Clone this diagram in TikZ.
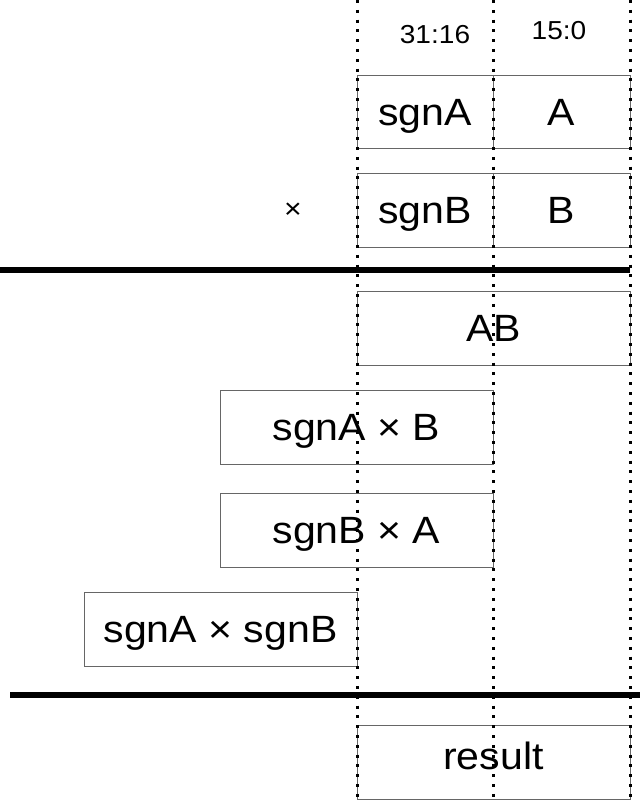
\documentclass[tikz,border=0pt]{standalone}
\usepackage{fontspec}
\setmainfont{Liberation Sans}
\newfontfamily\wfont[FakeStretch=1.08]{Liberation Sans}
\begin{document}
\begin{tikzpicture}[x=1pt,y=-1pt,
  regbox/.style={draw=black!60,line width=1pt,rectangle,inner sep=0pt,
    font=\wfont\fontsize{38}{40}\selectfont,text height=27pt,text depth=0pt},
  bitlabel/.style={font=\wfont\fontsize{26}{28}\selectfont,inner sep=0pt,
    text height=18.6pt,text depth=0pt},
  sepline/.style={line width=5.5pt},
  guide/.style={line width=3pt,dash pattern=on 3pt off 6.8pt,dash phase=0pt}]
\useasboundingbox (0,0) rectangle (640,800);
% top labels
\node[bitlabel] (hi) at (435,34) {31:16};
\node[bitlabel] (lo) at (559,30) {15:0};
% operand boxes
\node[regbox,minimum width=136pt,minimum height=73pt] (sgnA) at (425,111.5) {sgnA};
\node[regbox,minimum width=137pt,minimum height=73pt] (A) at (561.5,111.5) {A};
\node[font=\wfont\fontsize{28}{30}\selectfont,inner sep=0pt] (times) at (293,211) {×};
\node[regbox,minimum width=136pt,minimum height=74pt] (sgnB) at (425,210) {sgnB};
\node[regbox,minimum width=137pt,minimum height=74pt] (B) at (561.5,210) {B};
% partial products
\node[regbox,minimum width=273pt,minimum height=74pt] (AB) at (493.5,328) {AB};
\node[regbox,minimum width=273pt,minimum height=74pt] (sAB) at (356.5,427) {sgnA × B};
\node[regbox,minimum width=273pt,minimum height=74pt] (sBA) at (356.5,530) {sgnB × A};
\node[regbox,minimum width=273pt,minimum height=74pt] (sAsB) at (220.5,629) {sgnA × sgnB};
\node[regbox,minimum width=273pt,minimum height=74pt,text depth=12pt] (res) at (493.5,762) {result};
% separator lines
\coordinate (s1l) at (0,270); \coordinate (s1r) at (630,270);
\coordinate (s2l) at (10,695); \coordinate (s2r) at (640,695);
\draw[sepline] (s1l) -- (s1r);
\draw[sepline] (s2l) -- (s2r);
% dotted guides
\coordinate (g1t) at (357,0); \coordinate (g1b) at (357,800);
\coordinate (g2t) at (493,0); \coordinate (g2b) at (493,800);
\coordinate (g3t) at (630,0); \coordinate (g3b) at (630,800);
\draw[guide] (g1t) -- (g1b);
\draw[guide] (g2t) -- (g2b);
\draw[guide] (g3t) -- (g3b);
\end{tikzpicture}
\end{document}
